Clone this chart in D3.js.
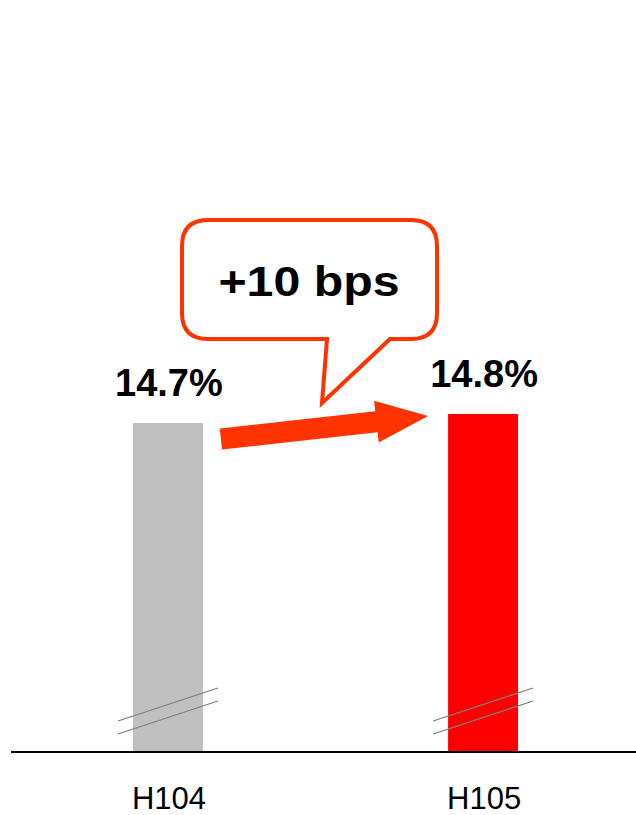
<!DOCTYPE html>
<html>
<head>
<meta charset="utf-8">
<script src="https://cdn.jsdelivr.net/npm/d3@7"></script>
<style>
  html, body { margin: 0; padding: 0; background: #fff; }
  svg { display: block; }
</style>
</head>
<body>
<svg id="chart" width="636" height="815"></svg>
<script>
// ---- data ----
const categories = ["H104", "H105"];
const values = [14.7, 14.8];
const valueLabels = ["14.7%", "14.8%"];
const barColors = ["#C0C0C0", "#FF0000"];
const calloutText = "+10 bps";
const axisMin = 11.04; // truncated (broken) axis

// ---- layout ----
const W = 636, H = 815;
const plotLeft = 11, plotRight = 640, baseY = 752, topY = 414;
const svg = d3.select("#chart");

const x = d3.scaleBand().domain(categories).range([plotLeft, plotRight])
  .paddingInner(0.778).paddingOuter(0.387);
const y = d3.scaleLinear().domain([axisMin, d3.max(values)]).range([baseY, topY]);

const data = categories.map((c, i) => ({ c, v: values[i], label: valueLabels[i], color: barColors[i] }));

// bars
svg.selectAll("rect.bar").data(data).join("rect")
  .attr("class", "bar")
  .attr("x", d => x(d.c))
  .attr("width", x.bandwidth())
  .attr("y", d => y(d.v))
  .attr("height", d => baseY - y(d.v))
  .attr("fill", d => d.color);

// break marks
data.forEach(d => {
  const x0 = x(d.c) - 15, x1 = x(d.c) + x.bandwidth() + 15;
  [0, 13].forEach(off => {
    svg.append("line")
      .attr("x1", x0).attr("y1", baseY - 31 + off)
      .attr("x2", x1).attr("y2", baseY - 64 + off)
      .attr("stroke", "#808080").attr("stroke-width", 1.3);
  });
});

// baseline
svg.append("line")
  .attr("x1", plotLeft).attr("x2", W)
  .attr("y1", baseY).attr("y2", baseY)
  .attr("stroke", "#000").attr("stroke-width", 2.2);

// value labels
svg.selectAll("text.val").data(data).join("text")
  .attr("class", "val")
  .attr("x", d => x(d.c) + x.bandwidth() / 2 + 1)
  .attr("y", d => y(d.v) - 27)
  .attr("text-anchor", "middle")
  .attr("font-family", "Liberation Sans, Arial, sans-serif")
  .attr("font-weight", "bold")
  .attr("font-size", 38)
  .attr("fill", "#000")
  .text(d => d.label);

// category labels
const xAxis = d3.axisBottom(x).tickSize(0).tickPadding(0);
const gx = svg.append("g").attr("transform", `translate(0,${baseY})`).call(xAxis);
gx.select(".domain").remove();
gx.selectAll("text")
  .attr("dy", null)
  .attr("y", 57)
  .attr("x", 1)
  .attr("font-family", "Liberation Sans, Arial, sans-serif")
  .attr("font-size", 31)
  .attr("fill", "#000");

// arrow from first bar to second bar
const orange = "#FF3300";
const sx = x(categories[0]) + x.bandwidth() + 18, sy = y(values[0]) + 16;
const tx = x(categories[1]) - 20, ty = y(values[1]) + 2;
const ang = Math.atan2(ty - sy, tx - sx);
const len = Math.hypot(tx - sx, ty - sy);
const shaftHalf = 10.5, headHalf = 21, headLen = 52;
const arrowPts = [
  [0, -shaftHalf], [len - headLen, -shaftHalf], [len - headLen, -headHalf],
  [len, 0], [len - headLen, headHalf], [len - headLen, shaftHalf], [0, shaftHalf]
];
svg.append("polygon")
  .attr("points", arrowPts.map(p => p.join(",")).join(" "))
  .attr("transform", `translate(${sx},${sy}) rotate(${ang * 180 / Math.PI})`)
  .attr("fill", orange);

// callout bubble
const bx0 = 182, bx1 = 437, by0 = 220, by1 = 339, r = 26;
const tailL = 327, tailR = 390, tipX = 322, tipY = 403;
const path = d3.path();
path.moveTo(bx0 + r, by0);
path.lineTo(bx1 - r, by0);
path.quadraticCurveTo(bx1, by0, bx1, by0 + r);
path.lineTo(bx1, by1 - r);
path.quadraticCurveTo(bx1, by1, bx1 - r, by1);
path.lineTo(tailR, by1);
path.lineTo(tipX, tipY);
path.lineTo(tailL, by1);
path.lineTo(bx0 + r, by1);
path.quadraticCurveTo(bx0, by1, bx0, by1 - r);
path.lineTo(bx0, by0 + r);
path.quadraticCurveTo(bx0, by0, bx0 + r, by0);
path.closePath();
svg.append("path")
  .attr("d", path.toString())
  .attr("fill", "#fff")
  .attr("stroke", orange)
  .attr("stroke-width", 4)
  .attr("stroke-linejoin", "miter");

svg.append("text")
  .attr("transform", "translate(309,296) scale(1.15,1)")
  .attr("text-anchor", "middle")
  .attr("font-family", "Liberation Sans, Arial, sans-serif")
  .attr("font-weight", "bold")
  .attr("font-size", 42)
  .attr("fill", "#000")
  .text(calloutText);
</script>
</body>
</html>
